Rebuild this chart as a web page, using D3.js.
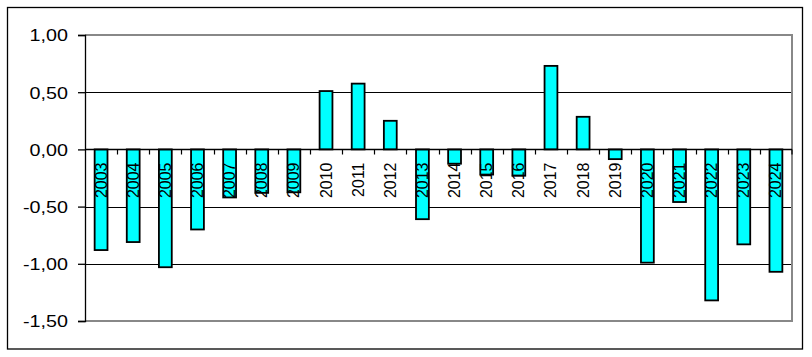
<!DOCTYPE html>
<html><head><meta charset="utf-8">
<script src="https://cdn.jsdelivr.net/npm/d3@7"></script>
<style>body{margin:0;background:#fff}svg{display:block}</style>
</head><body>
<script>
const years = ["2003","2004","2005","2006","2007","2008","2009","2010","2011","2012","2013","2014","2015","2016","2017","2018","2019","2020","2021","2022","2023","2024"];
const values = [-0.88,-0.81,-1.03,-0.70,-0.42,-0.38,-0.375,0.51,0.575,0.25,-0.61,-0.125,-0.22,-0.23,0.73,0.285,-0.085,-0.99,-0.46,-1.32,-0.83,-1.07];
const yTicks = [1.0,0.5,0,-0.5,-1.0,-1.5];

const W=812,H=357;
const svg=d3.select("body").append("svg").attr("width",W).attr("height",H);
const L=85,R=792,T=35,B=321;
const x=d3.scaleBand().domain(years).range([L,R]).paddingInner(0.6).paddingOuter(0.3);
const xc=d3.scaleBand().domain(years).range([L,R]);
const y=d3.scaleLinear().domain([-1.5,1.0]).range([B,T]);
const fmt=v=>d3.format(".2f")(v).replace(".",",").replace("−","-");

// outer frame
svg.append("rect").attr("x",7.5).attr("y",7.5).attr("width",795).attr("height",341.5)
  .attr("fill","none").attr("stroke","#000").attr("stroke-width",1.3);

// gridlines
svg.append("g").selectAll("line").data(yTicks.filter(v=>v<1&&v>-1.5)).join("line")
  .attr("x1",L).attr("x2",R).attr("y1",d=>Math.round(y(d))+0.5).attr("y2",d=>Math.round(y(d))+0.5)
  .attr("stroke","#000").attr("stroke-width",1);

// plot border (gray) top, right, bottom
svg.append("path").attr("d",`M${L},${T}H${R}V${B}H${L}`).attr("fill","none")
  .attr("stroke","#888").attr("stroke-width",2);

// bars
svg.append("g").selectAll("rect").data(values).join("rect")
  .attr("x",(d,i)=>x(years[i]))
  .attr("width",x.bandwidth())
  .attr("y",d=>y(Math.max(0,d)))
  .attr("height",d=>Math.abs(y(d)-y(0)))
  .attr("fill","#00FFFF").attr("stroke","#000").attr("stroke-width",1.8);

// y axis
const ya=svg.append("g").attr("transform",`translate(${L},0)`)
  .call(d3.axisLeft(y).tickValues(yTicks).tickSize(7).tickPadding(0).tickFormat(fmt));
ya.select(".domain").attr("stroke","#000").attr("stroke-width",1.3);
ya.selectAll(".tick line").attr("stroke","#000").attr("stroke-width",1.3);
ya.selectAll(".tick text").remove();
ya.selectAll(".tick").append("text")
  .attr("transform","translate(-17,0) scale(1.16,1)")
  .attr("text-anchor","end").attr("dy","0.35em")
  .attr("font-family","Liberation Sans, Arial, sans-serif").attr("font-size",17).attr("fill","#000")
  .text(d=>fmt(d));

// zero axis with ticks between categories
const z=Math.round(y(0))+0.5;
svg.append("line").attr("x1",L).attr("x2",R).attr("y1",z).attr("y2",z).attr("stroke","#000").attr("stroke-width",1.3);
svg.append("g").selectAll("line").data(years.slice(1).concat(["end"])).join("line")
  .attr("x1",(d,i)=>i<years.length-1?Math.round(xc(d))+0.5:R)
  .attr("x2",(d,i)=>i<years.length-1?Math.round(xc(d))+0.5:R)
  .attr("y1",z).attr("y2",z+5).attr("stroke","#000").attr("stroke-width",1.2);

// year labels
svg.append("g").selectAll("text").data(years).join("text")
  .attr("transform",d=>`translate(${xc(d)+xc.bandwidth()/2+5.5},${z+13}) rotate(-90)`)
  .attr("text-anchor","end")
  .attr("font-family","Liberation Sans, Arial, sans-serif").attr("font-size",16).attr("fill","#000")
  .text(d=>d);
</script>
</body></html>
